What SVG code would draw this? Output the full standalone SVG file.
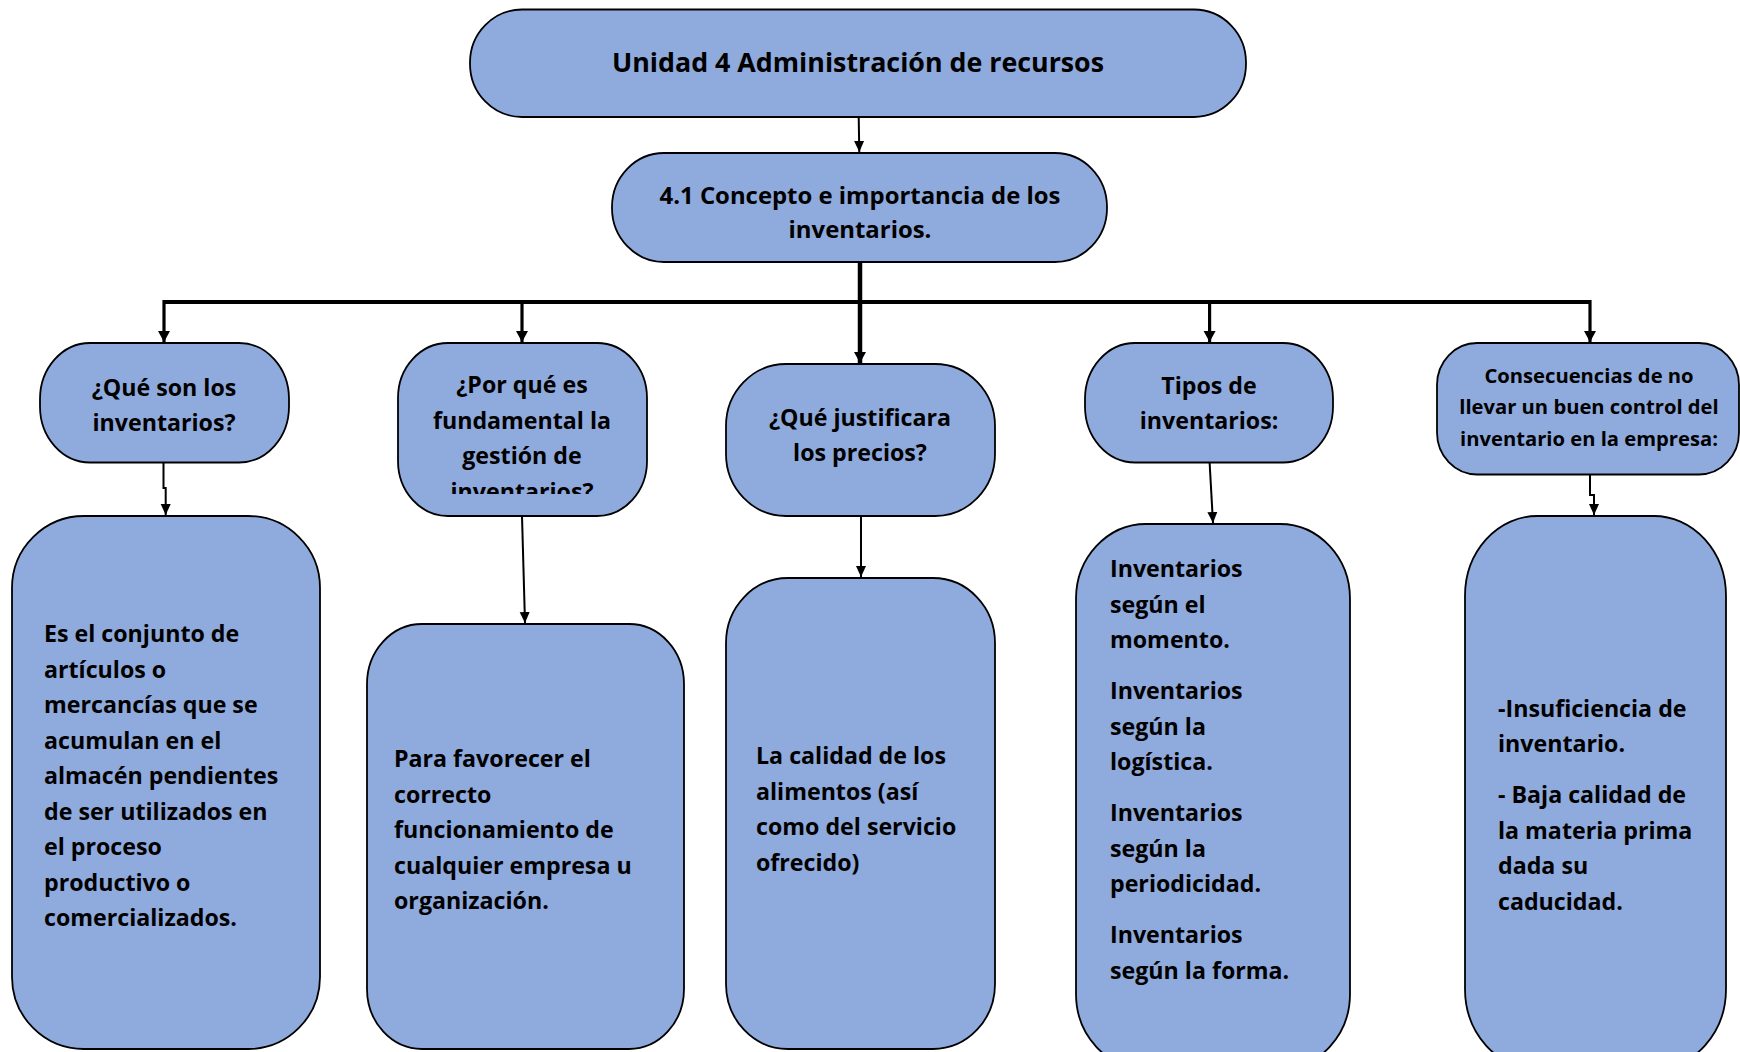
<svg xmlns="http://www.w3.org/2000/svg" width="1740" height="1052" viewBox="0 0 1740 1052">
<style>
.box{fill:#8FAADC;stroke:#000;stroke-width:1.8}
.t{font-family:"Open Sans","Noto Sans","Liberation Sans",sans-serif;font-weight:bold;fill:#000;font-size:23.2px}
.c{text-anchor:middle}
.con{fill:none;stroke:#000}
</style>
<defs>
<marker id="ah" markerUnits="userSpaceOnUse" markerWidth="12" markerHeight="12" refX="11" refY="6" orient="auto"><path d="M0,1 L11,6 L0,11 z" fill="#000"/></marker>
<marker id="ahb" markerUnits="userSpaceOnUse" markerWidth="12" markerHeight="14" refX="11" refY="7" orient="auto"><path d="M0,1 L11,7 L0,13 z" fill="#000"/></marker>
<clipPath id="clipB"><rect x="398" y="343" width="249" height="151"/></clipPath>
</defs>

<g id="connectors">
<path class="con" stroke-width="2" d="M858.7 117 L859.3 152" marker-end="url(#ah)"/>
<path class="con" stroke-width="4.5" d="M860 262 V363" marker-end="url(#ahb)"/>
<path class="con" stroke-width="4" d="M164 302 H1591"/>
<path class="con" stroke-width="3.2" d="M164 300 V342" marker-end="url(#ahb)"/>
<path class="con" stroke-width="3.2" d="M522 300 V342" marker-end="url(#ahb)"/>
<path class="con" stroke-width="3.2" d="M1209.6 300 V342" marker-end="url(#ahb)"/>
<path class="con" stroke-width="3.2" d="M1590 300 V342" marker-end="url(#ahb)"/>
<path class="con" stroke-width="2" d="M163.5 462 V488 H165.7 V515" marker-end="url(#ah)"/>
<path class="con" stroke-width="2" d="M522 516 L525 623" marker-end="url(#ah)"/>
<path class="con" stroke-width="2" d="M861 516 V577" marker-end="url(#ah)"/>
<path class="con" stroke-width="2" d="M1209.6 462.5 L1213 523" marker-end="url(#ah)"/>
<path class="con" stroke-width="2" d="M1590 474.5 V495 H1594 V515" marker-end="url(#ah)"/>
</g>

<g id="n-title">
<rect class="box" x="470" y="9.5" width="776" height="107.5" rx="52" ry="53"/>
<text class="t c" x="858" y="72" style="font-size:26.8px">Unidad 4 Administración de recursos</text>
</g>

<g id="n-concepto">
<rect class="box" x="612" y="153" width="495" height="109" rx="52" ry="54"/>
<text class="t c" x="860" y="204" style="font-size:23.9px">4.1 Concepto e importancia de los</text>
<text class="t c" x="860" y="237.5" style="font-size:23.9px">inventarios.</text>
</g>

<g id="n-que-son">
<rect class="box" x="40" y="343" width="249" height="119.5" rx="50" ry="56"/>
<text class="t c" x="164" y="395.5">¿Qué son los</text>
<text class="t c" x="164" y="431">inventarios?</text>
</g>

<g id="n-por-que">
<rect class="box" x="398" y="343" width="249" height="173" rx="50" ry="55"/>
<g clip-path="url(#clipB)">
<text class="t c" x="522" y="393">¿Por qué es</text>
<text class="t c" x="522" y="428.5">fundamental la</text>
<text class="t c" x="522" y="464">gestión de</text>
<text class="t c" x="522" y="499.5">inventarios?</text>
</g>
</g>

<g id="n-justificara">
<rect class="box" x="726" y="364" width="269" height="152" rx="60" ry="62"/>
<text class="t c" x="860" y="426">¿Qué justificara</text>
<text class="t c" x="860" y="461">los precios?</text>
</g>

<g id="n-tipos">
<rect class="box" x="1085" y="343" width="248" height="119.5" rx="50" ry="56"/>
<text class="t c" x="1209" y="394">Tipos de</text>
<text class="t c" x="1209" y="429">inventarios:</text>
</g>

<g id="n-consecuencias">
<rect class="box" x="1437" y="343" width="302" height="131.5" rx="40" ry="42"/>
<text class="t c" x="1589" y="383" style="font-size:20.2px">Consecuencias de no</text>
<text class="t c" x="1589" y="414" style="font-size:20.2px">llevar un buen control del</text>
<text class="t c" x="1589" y="445.5" style="font-size:20.2px">inventario en la empresa:</text>
</g>

<g id="n-def">
<rect class="box" x="12" y="516" width="308" height="533" rx="72" ry="72"/>
<text class="t" x="44" y="642">Es el conjunto de</text>
<text class="t" x="44" y="677.5">artículos o</text>
<text class="t" x="44" y="713">mercancías que se</text>
<text class="t" x="44" y="748.5">acumulan en el</text>
<text class="t" x="44" y="784">almacén pendientes</text>
<text class="t" x="44" y="819.5">de ser utilizados en</text>
<text class="t" x="44" y="855">el proceso</text>
<text class="t" x="44" y="890.5">productivo o</text>
<text class="t" x="44" y="926">comercializados.</text>
</g>

<g id="n-favorecer">
<rect class="box" x="367" y="624" width="317" height="425" rx="55" ry="60"/>
<text class="t" x="394" y="767">Para favorecer el</text>
<text class="t" x="394" y="802.5">correcto</text>
<text class="t" x="394" y="838">funcionamiento de</text>
<text class="t" x="394" y="873.5">cualquier empresa u</text>
<text class="t" x="394" y="909">organización.</text>
</g>

<g id="n-calidad">
<rect class="box" x="726" y="578" width="269" height="471" rx="62" ry="65"/>
<text class="t" x="756" y="764">La calidad de los</text>
<text class="t" x="756" y="799.5">alimentos (así</text>
<text class="t" x="756" y="835">como del servicio</text>
<text class="t" x="756" y="870.5">ofrecido)</text>
</g>

<g id="n-tipos-lista">
<rect class="box" x="1076" y="524" width="274" height="545" rx="70" ry="75"/>
<text class="t" x="1110" y="577">Inventarios</text>
<text class="t" x="1110" y="612.5">según el</text>
<text class="t" x="1110" y="648">momento.</text>
<text class="t" x="1110" y="699">Inventarios</text>
<text class="t" x="1110" y="734.5">según la</text>
<text class="t" x="1110" y="770">logística.</text>
<text class="t" x="1110" y="821">Inventarios</text>
<text class="t" x="1110" y="856.5">según la</text>
<text class="t" x="1110" y="892">periodicidad.</text>
<text class="t" x="1110" y="943">Inventarios</text>
<text class="t" x="1110" y="978.5">según la forma.</text>
</g>

<g id="n-consecuencias-lista">
<rect class="box" x="1465" y="516" width="261" height="553" rx="72" ry="80"/>
<text class="t" x="1498" y="716.5">-Insuficiencia de</text>
<text class="t" x="1498" y="752">inventario.</text>
<text class="t" x="1498" y="803">- Baja calidad de</text>
<text class="t" x="1498" y="838.5">la materia prima</text>
<text class="t" x="1498" y="874">dada su</text>
<text class="t" x="1498" y="909.5">caducidad.</text>
</g>
</svg>
